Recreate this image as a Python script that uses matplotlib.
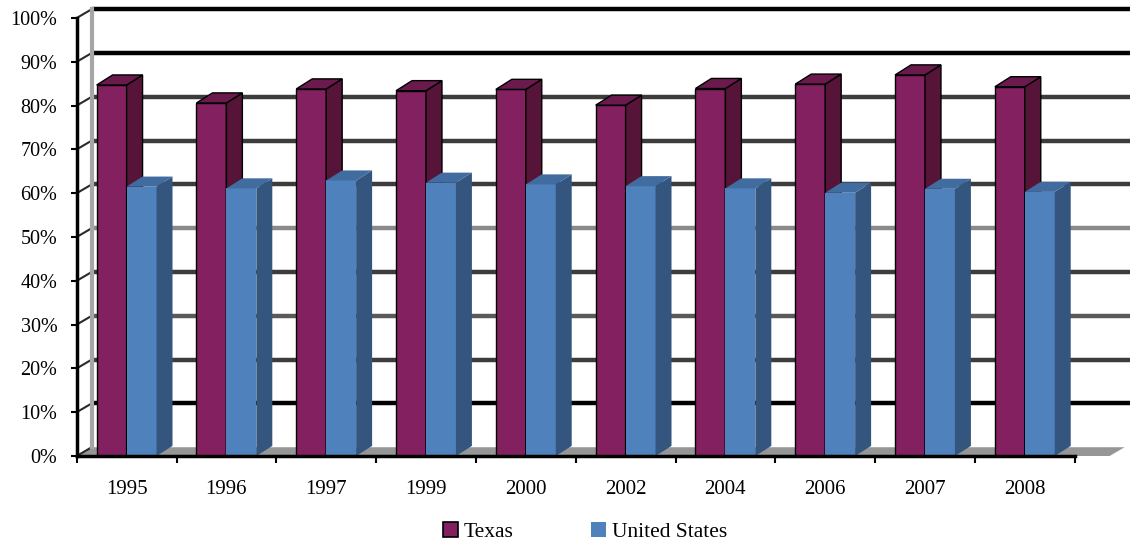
import matplotlib
matplotlib.use("Agg")
import matplotlib.pyplot as plt
from matplotlib.patches import Polygon, Patch

years = ["1995", "1996", "1997", "1999", "2000", "2002", "2004", "2006", "2007", "2008"]
texas = [84.7, 80.6, 83.8, 83.4, 83.7, 80.1, 83.9, 84.9, 87.0, 84.3]
usa = [61.5, 61.1, 62.9, 62.4, 62.0, 61.6, 61.1, 60.1, 61.0, 60.3]
yticks = [0, 10, 20, 30, 40, 50, 60, 70, 80, 90, 100]
ytick_labels = [f"{v}%" for v in yticks]
series_names = ["Texas", "United States"]

TX_FRONT, TX_SIDE, TX_TOP = "#832060", "#561438", "#6b1a4e"
US_FRONT, US_SIDE, US_TOP = "#4f81bd", "#34557e", "#416c9f"
grid_colors = ["#969696", "#000000", "#3c3c3c", "#5a5a5a", "#3c3c3c", "#8a8a8a",
               "#3c3c3c", "#3c3c3c", "#3c3c3c", "#000000", "#000000"]

plt.rcParams["font.family"] = ["Liberation Serif", "DejaVu Serif"]

W, H = 1132, 544
fig = plt.figure(figsize=(W / 100, H / 100), dpi=100)
XMAX, YMAX = 10.55, 103.0
ax = fig.add_axes([76.7 / W, (H - 456) / H, XMAX * 99.8 / W, (YMAX * 4.38) / H])
ax.set_xlim(0, XMAX)
ax.set_ylim(0, YMAX)

dx, dy = 0.15, 2.0      # wall depth
bdx, bdy = 0.16, 2.3    # bar depth
bw = 0.30

# floor
ax.add_patch(Polygon([(0, 0), (10.35, 0), (10.35 + dx, dy), (dx, dy)],
                     closed=True, facecolor="#969696", edgecolor="none", zorder=1))
# back wall gridlines
for v, c in zip(yticks[1:], grid_colors[1:]):
    ax.plot([dx, XMAX], [v + dy, v + dy], color=c, lw=3.2, zorder=1.5,
            solid_capstyle="butt")
# side wall lines
for v, c in zip(yticks, grid_colors):
    ax.plot([0, dx], [v, v + dy], color="#2a2a2a", lw=1.5, zorder=1.6)
# back wall left edge
ax.plot([dx, dx], [dy, 100 + dy], color="#a6a6a6", lw=3, zorder=1.7)

def bar3d(x0, val, front, side, top, edge, z):
    lw = 1.0 if edge != "none" else 0
    ax.bar([x0 + bw / 2], [val], width=bw, color=front, edgecolor=edge,
           linewidth=lw, zorder=z)
    ax.add_patch(Polygon([(x0 + bw, 0), (x0 + bw + bdx, bdy), (x0 + bw + bdx, val + bdy), (x0 + bw, val)],
                         closed=True, facecolor=side, edgecolor=edge, linewidth=lw, zorder=z))
    ax.add_patch(Polygon([(x0, val), (x0 + bdx, val + bdy), (x0 + bw + bdx, val + bdy), (x0 + bw, val)],
                         closed=True, facecolor=top, edgecolor=edge, linewidth=lw, zorder=z))

for i, (t, u) in enumerate(zip(texas, usa)):
    c = i + 0.5
    bar3d(c - bw, t, TX_FRONT, TX_SIDE, TX_TOP, "black", 3 + i * 0.1)
    bar3d(c, u, US_FRONT, US_SIDE, US_TOP, "none", 3.05 + i * 0.1)

for s in ["top", "right"]:
    ax.spines[s].set_visible(False)
ax.spines["left"].set_bounds(0, 100)
ax.spines["left"].set_linewidth(2.5)
ax.spines["bottom"].set_bounds(0, 10)
ax.spines["bottom"].set_linewidth(2.5)
ax.spines["left"].set_zorder(10)
ax.spines["bottom"].set_zorder(10)

ax.set_yticks(yticks)
ax.set_yticklabels(ytick_labels, fontsize=14.5)
ax.set_xticks(range(0, 11))
ax.set_xticklabels([])
ax.set_xticks([i + 0.5 for i in range(10)], minor=True)
ax.set_xticklabels(years, minor=True, fontsize=15)
ax.tick_params(axis="x", which="major", direction="out", length=5, width=1.5)
ax.tick_params(axis="x", which="minor", length=0, pad=17)
ax.tick_params(axis="y", direction="out", length=4, width=1.5, pad=10)

handles = [Patch(facecolor=TX_FRONT, edgecolor="black", linewidth=1.2),
           Patch(facecolor=US_FRONT, edgecolor="none")]
fig.legend(handles, series_names, loc="center", bbox_to_anchor=(585 / W, 1 - 532 / H),
           ncol=2, frameon=False, fontsize=15.5, handlelength=0.7, handleheight=0.7,
           handletextpad=0.25, columnspacing=3.6)

fig.savefig("out.png", dpi=100)
